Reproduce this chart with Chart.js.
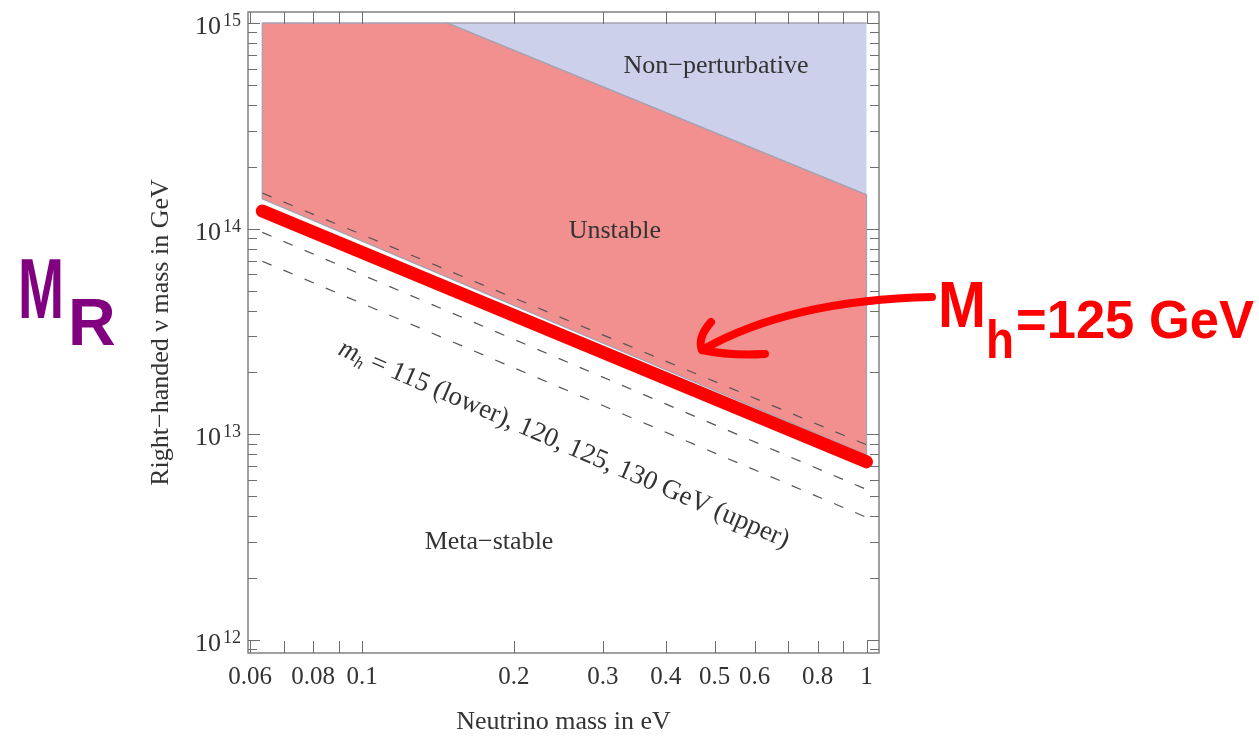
<!DOCTYPE html>
<html>
<head>
<meta charset="utf-8">
<script src="https://cdn.jsdelivr.net/npm/chart.js@4.4.1/dist/chart.umd.min.js"></script>
<style>
  html, body { margin: 0; padding: 0; background: #fff; }
  canvas { display: block; }
</style>
</head>
<body>
<canvas id="grafico" width="1259" height="738"></canvas>
<script>
// masa del neutrino (eV) en los extremos de las curvas
const massEnds = [0.0634, 1];
// M_R (GeV) en cada extremo, segun la masa del Higgs
const mh130 = [1.49e14, 8.9e12];
const mh125 = [1.22e14, 7.35e12];
const mh120 = [9.6e13, 5.4e12];
const mh115 = [6.95e13, 3.95e12];

// contorno de la region inestable
const unstableX = [0.0634, 0.1474, 1, 1, 0.0634, 0.0634];
const unstableY = [1e15, 1e15, 1.46e14, 7.95e12, 1.395e14, 1e15];
// contorno de la region no perturbativa
const nonPertX = [1, 0.1474, 1];
const nonPertY = [1e15, 1e15, 1.46e14];

// ticks
const xTicks = [0.06, 0.07, 0.08, 0.09, 0.1, 0.2, 0.3, 0.4, 0.5, 0.6, 0.7, 0.8, 0.9, 1];
const xTickLabels = ['0.06', '', '0.08', '', '0.1', '0.2', '0.3', '0.4', '0.5', '0.6', '', '0.8', '', '1'];
const yMajor = [1e12, 1e13, 1e14, 1e15];
const yMajorExp = ['12', '13', '14', '15'];

// etiquetas de regiones
const regionNames = ['Non\u2212perturbative', 'Unstable', 'Meta\u2212stable'];
const regionX = [0.503, 0.317, 0.1785];
const regionY = [6.2e14, 9.75e13, 3.0e12];

const serif = "'Liberation Serif', 'DejaVu Serif', serif";
const hand = "'Liberation Sans', 'DejaVu Sans', sans-serif";

const pts = (xs, ys) => xs.map((v, i) => ({ x: v, y: ys[i] }));

const dashed = (vals) => ({
  data: pts(massEnds, vals),
  borderColor: '#555',
  borderWidth: 1.2,
  borderDash: [10, 13],
  pointRadius: 0,
  fill: false,
  order: 1
});

const marco = {
  id: 'marco',
  afterDraw(chart) {
    const { ctx, chartArea: a, scales: { x, y } } = chart;
    const seg = (x1, y1, x2, y2) => { ctx.beginPath(); ctx.moveTo(x1, y1); ctx.lineTo(x2, y2); ctx.stroke(); };
    ctx.save();

    // marco y ticks hacia dentro
    ctx.strokeStyle = '#6e6e6e';
    ctx.lineWidth = 1.3;
    ctx.strokeRect(a.left, a.top, a.right - a.left, a.bottom - a.top);
    ctx.lineWidth = 1;
    xTicks.forEach(v => {
      const px = Math.round(x.getPixelForValue(v)) + 0.5;
      seg(px, a.bottom, px, a.bottom - 12);
      seg(px, a.top, px, a.top + 12);
    });
    for (let e = 11; e <= 15; e++) {
      for (let m = 1; m <= 9; m++) {
        const v = m * Math.pow(10, e);
        if (v < y.min || v > y.max) continue;
        const py = Math.round(y.getPixelForValue(v)) + 0.5;
        const len = m === 1 ? 12 : 9;
        seg(a.left, py, a.left + len, py);
        seg(a.right, py, a.right - len, py);
      }
    }

    // etiquetas del eje y con exponente
    ctx.fillStyle = '#333';
    ctx.textAlign = 'right';
    ctx.textBaseline = 'alphabetic';
    yMajor.forEach((v, i) => {
      const py = y.getPixelForValue(v);
      ctx.font = '18px ' + serif;
      const w = ctx.measureText(yMajorExp[i]).width;
      ctx.fillText(yMajorExp[i], a.left - 7, py + 3);
      ctx.font = '26px ' + serif;
      ctx.fillText('10', a.left - 9 - w, py + 11);
    });

    // nombres de regiones
    ctx.textAlign = 'center';
    ctx.textBaseline = 'middle';
    ctx.font = '26px ' + serif;
    regionNames.forEach((t, i) => {
      ctx.fillText(t, x.getPixelForValue(regionX[i]), y.getPixelForValue(regionY[i]));
    });

    // etiqueta inclinada de las curvas
    const partes = [
      { t: 'm', f: 'italic 27px ' + serif, dy: 0 },
      { t: 'h', f: 'italic 17px ' + serif, dy: 5 },
      { t: ' = 115 (lower), 120, 125, 130 GeV (upper)', f: '27px ' + serif, dy: 0 }
    ];
    let total = 0;
    partes.forEach(p => { ctx.font = p.f; p.w = ctx.measureText(p.t).width; total += p.w; });
    ctx.save();
    ctx.translate(x.getPixelForValue(0.248), y.getPixelForValue(8.3e12));
    ctx.rotate(23.4 * Math.PI / 180);
    ctx.textAlign = 'left';
    ctx.textBaseline = 'alphabetic';
    let cx = -total / 2;
    partes.forEach(p => { ctx.font = p.f; ctx.fillText(p.t, cx, p.dy); cx += p.w; });
    ctx.restore();

    // anotaciones a mano
    ctx.textAlign = 'left';
    ctx.textBaseline = 'alphabetic';
    ctx.fillStyle = '#800080';
    ctx.font = 'bold 86px ' + hand;
    ctx.fillText('M', 18, 318, 46);
    ctx.font = 'bold 66px ' + hand;
    ctx.fillText('R', 68, 345, 48);

    ctx.fillStyle = '#ff0000';
    ctx.font = 'bold 64px ' + hand;
    ctx.fillText('M', 938, 327, 48);
    ctx.font = 'bold 54px ' + hand;
    ctx.fillText('h', 986, 358, 28);
    ctx.font = 'bold 54px ' + hand;
    ctx.fillText('=125 GeV', 1016, 338, 238);

    ctx.strokeStyle = '#ff0000';
    ctx.lineWidth = 8;
    ctx.lineCap = 'round';
    ctx.lineJoin = 'round';
    ctx.beginPath();
    ctx.moveTo(932, 297);
    ctx.quadraticCurveTo(790, 300, 702, 350);
    ctx.stroke();
    ctx.beginPath();
    ctx.moveTo(711, 322);
    ctx.quadraticCurveTo(697, 338, 702, 350);
    ctx.quadraticCurveTo(730, 356, 765, 354);
    ctx.stroke();

    ctx.restore();
  }
};

new Chart(document.getElementById('grafico'), {
  type: 'line',
  data: {
    datasets: [
      {
        data: pts(massEnds, mh125),
        borderColor: '#ff0000',
        borderWidth: 13,
        borderCapStyle: 'round',
        pointRadius: 0,
        fill: false,
        order: 0
      },
      dashed(mh130),
      dashed(mh120),
      dashed(mh115),
      {
        data: pts(unstableX, unstableY),
        borderColor: '#a3a3b3',
        borderWidth: 1.3,
        backgroundColor: 'rgb(242,143,143)',
        pointRadius: 0,
        fill: 'shape',
        order: 3
      },
      {
        data: pts(nonPertX, nonPertY),
        borderColor: '#a3a3b3',
        borderWidth: 1.3,
        backgroundColor: 'rgb(205,208,234)',
        pointRadius: 0,
        fill: 'shape',
        order: 3
      }
    ]
  },
  options: {
    responsive: false,
    animation: false,
    events: [],
    layout: { padding: { left: 0, top: 12, right: 380, bottom: 0 } },
    plugins: { legend: { display: false }, tooltip: { enabled: false } },
    scales: {
      x: {
        type: 'logarithmic',
        min: 0.0594,
        max: 1.0587,
        grid: { display: false, drawTicks: false },
        border: { display: false },
        afterBuildTicks: s => { s.ticks = xTicks.map(v => ({ value: v })); },
        afterFit: s => { s.height = 85; },
        ticks: {
          autoSkip: false,
          maxRotation: 0,
          padding: 9,
          color: '#333',
          font: { family: serif, size: 25 },
          callback: (v, i) => xTickLabels[i]
        },
        title: {
          display: true,
          text: 'Neutrino mass in eV',
          color: '#333',
          font: { family: serif, size: 26 },
          padding: { top: 0, bottom: 0 }
        }
      },
      y: {
        type: 'logarithmic',
        min: 8.65e11,
        max: 1.131e15,
        grid: { display: false, drawTicks: false },
        border: { display: false },
        afterFit: s => { s.width = 248; },
        ticks: { display: false },
        title: {
          display: true,
          text: 'Right\u2212handed \u03bd mass in GeV',
          color: '#333',
          font: { family: serif, size: 26 },
          padding: { top: 146, bottom: 0 }
        }
      }
    }
  },
  plugins: [marco]
});
</script>
</body>
</html>
